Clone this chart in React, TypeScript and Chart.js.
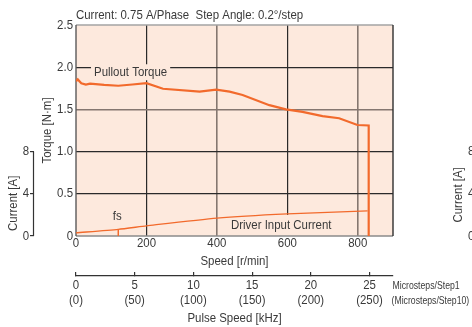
import { useEffect, useRef } from "react";
import { Chart, registerables } from "chart.js";

Chart.register(...registerables);

// ---------- data ----------
const CHART_TITLE = "Current: 0.75 A/Phase  Step Angle: 0.2°/step";
const SPEED_TICKS = [0, 200, 400, 600, 800];
const TORQUE_TICKS = [0, 0.5, 1, 1.5, 2, 2.5];
const CURRENT_TICKS = [0, 4, 8];
const PULSE_TICKS = [0, 5, 10, 15, 20, 25];
const PULSE_TICKS_MS10 = ["(0)", "(50)", "(100)", "(150)", "(200)", "(250)"];

const torqueSpeed = [0, 5, 15, 28, 40, 80, 120, 160, 200, 247, 351, 398, 436, 473, 549, 596, 643, 700, 747, 799, 831, 831];
const pulloutTorque = [1.835, 1.855, 1.81, 1.795, 1.805, 1.79, 1.78, 1.795, 1.81, 1.745, 1.71, 1.735, 1.71, 1.67, 1.55, 1.5, 1.47, 1.42, 1.395, 1.315, 1.31, 0];

const currentSpeed = [0, 120, 200, 400, 600, 828];
const inputCurrent = [0.3, 0.63, 0.96, 1.7, 2.1, 2.38];

const FS_SPEED = 120;
const FS_CURRENT = 0.63;

const SPEED_MAX = 900;
const TORQUE_MAX = 2.5;
const CURRENT_PER_TORQUE = 8; // 8 A lines up with 1.0 N·m
const KHZ_PER_RPM = 0.03; // 1800 steps/rev

const PULLOUT_LABEL = { text: "Pullout Torque", speed: 155, torque: 1.94 };
const CURRENT_LABEL = { text: "Driver Input Current", speed: 440, current: 1.05 };

// ---------- style ----------
const FONT = "'Liberation Sans', Arial, sans-serif";
const TEXT_SCALE = 0.88; // condensed look
const SMALL_TEXT_SCALE = 0.79;
const TEXT = "#3a3a3a";
const ORANGE = "#f26a2c";
const BG = "#fde9dd";
const GRID_DARK = "#2a2a2a";
const GRID_GRAY = "#857770";

const decor = {
  id: "decor",
  beforeDraw(chart: any) {
    const { ctx, chartArea: a } = chart;
    ctx.save();
    ctx.fillStyle = BG;
    ctx.fillRect(a.left, a.top, a.right - a.left, a.bottom - a.top);
    ctx.restore();
  },
  beforeDatasetsDraw(chart: any) {
    const { ctx, chartArea: a, scales } = chart;
    const x = scales.x, y = scales.y, yc = scales.yc;
    ctx.save();
    ctx.font = `13px ${FONT}`;
    ctx.fillStyle = BG;
    const pw = ctx.measureText(PULLOUT_LABEL.text).width * TEXT_SCALE;
    const pcx = x.getPixelForValue(PULLOUT_LABEL.speed);
    const pcy = y.getPixelForValue(PULLOUT_LABEL.torque);
    ctx.fillRect(pcx - pw / 2 - 3, pcy - 8, pw + 6, 16);
    const cw = ctx.measureText(CURRENT_LABEL.text).width * TEXT_SCALE;
    const clx = x.getPixelForValue(CURRENT_LABEL.speed);
    const ccy = yc.getPixelForValue(CURRENT_LABEL.current);
    ctx.fillRect(clx - 3, ccy - 10, cw + 6, a.bottom - (ccy - 10));
    // frame
    ctx.lineWidth = 1.4;
    const side = (c: string, x1: number, y1: number, x2: number, y2: number) => {
      ctx.strokeStyle = c;
      ctx.beginPath();
      ctx.moveTo(x1, y1);
      ctx.lineTo(x2, y2);
      ctx.stroke();
    };
    side("#a3a3a3", a.left, a.top, a.right, a.top);
    side("#8a8a8a", a.left, a.bottom, a.right, a.bottom);
    side("#5a5a5a", a.left, a.top, a.left, a.bottom);
    side("#2e2e2e", a.right, a.top, a.right, a.bottom);
    // current axis line (0..8 A)
    ctx.strokeStyle = "#333";
    ctx.lineWidth = 1.2;
    ctx.beginPath();
    ctx.moveTo(yc.right - 0.5, yc.getPixelForValue(0));
    ctx.lineTo(yc.right - 0.5, yc.getPixelForValue(CURRENT_TICKS[CURRENT_TICKS.length - 1]));
    ctx.stroke();
    ctx.restore();
  },
  afterDraw(chart: any) {
    const { ctx, scales } = chart;
    const x = scales.x, y = scales.y, yc = scales.yc, xk = scales.xk;
    ctx.save();
    ctx.fillStyle = TEXT;
    ctx.font = `13px ${FONT}`;
    ctx.textBaseline = "middle";
    ctx.textAlign = "center";
    ctx.fillText(PULLOUT_LABEL.text, x.getPixelForValue(PULLOUT_LABEL.speed), y.getPixelForValue(PULLOUT_LABEL.torque));
    ctx.textAlign = "left";
    ctx.fillText(CURRENT_LABEL.text, x.getPixelForValue(CURRENT_LABEL.speed), yc.getPixelForValue(CURRENT_LABEL.current));
    ctx.textAlign = "center";
    ctx.fillText("fs", x.getPixelForValue(FS_SPEED) - 1, yc.getPixelForValue(FS_CURRENT) - 13);
    // current axis title
    ctx.save();
    ctx.translate(13, yc.getPixelForValue(3.1));
    ctx.rotate(-Math.PI / 2);
    ctx.fillText("Current [A]", 0, 0);
    ctx.restore();
    // microsteps legend beside pulse axis
    ctx.__sx = SMALL_TEXT_SCALE;
    ctx.font = `11px ${FONT}`;
    ctx.textAlign = "left";
    ctx.fillText("Microsteps/Step1", xk.right - 0.5, 286);
    ctx.fillText("(Microsteps/Step10)", xk.right - 1.5, 301);
    ctx.__sx = undefined;
    // neighbouring chart (cut off at the right edge)
    ctx.font = `13px ${FONT}`;
    ctx.save();
    ctx.translate(458, yc.getPixelForValue(3.9));
    ctx.rotate(-Math.PI / 2);
    ctx.textAlign = "center";
    ctx.fillText("Current [A]", 0, 0);
    ctx.restore();
    ctx.textAlign = "left";
    CURRENT_TICKS.forEach((v) => ctx.fillText(String(v), 468, yc.getPixelForValue(v)));
    ctx.restore();
  },
};

function condenseText(ctx: any) {
  if (ctx.__condensed) return;
  const orig = ctx.fillText.bind(ctx);
  ctx.fillText = (text: string, px: number, py: number, maxWidth?: number) => {
    const sx = ctx.__sx ?? TEXT_SCALE;
    ctx.save();
    ctx.translate(px, py);
    ctx.scale(sx, 1);
    if (maxWidth !== undefined) orig(text, 0, 0, maxWidth / sx);
    else orig(text, 0, 0);
    ctx.restore();
  };
  ctx.__condensed = true;
}

export default function App() {
  const ref = useRef<HTMLCanvasElement | null>(null);
  useEffect(() => {
    if (!ref.current) return;
    const c2d = ref.current.getContext("2d");
    condenseText(c2d);
    Chart.defaults.font.family = FONT;
    Chart.defaults.color = TEXT;
    const tickFont = { size: 13, family: FONT };
    const chart = new Chart(ref.current, {
      type: "line",
      data: {
        datasets: [
          {
            label: "Pullout Torque",
            data: torqueSpeed.map((s, i) => ({ x: s, y: pulloutTorque[i] })),
            xAxisID: "x",
            yAxisID: "y",
            borderColor: ORANGE,
            borderWidth: 2.2,
            pointRadius: 0,
            tension: 0,
          },
          {
            label: "Driver Input Current",
            data: currentSpeed.map((s, i) => ({ x: s, y: inputCurrent[i] })),
            xAxisID: "x",
            yAxisID: "yc",
            borderColor: ORANGE,
            borderWidth: 1.3,
            pointRadius: 0,
            tension: 0.2,
          },
          {
            label: "fs",
            data: [
              { x: FS_SPEED, y: 0 },
              { x: FS_SPEED, y: FS_CURRENT },
            ],
            xAxisID: "x",
            yAxisID: "yc",
            borderColor: ORANGE,
            borderWidth: 1.5,
            pointRadius: 0,
          },
        ],
      },
      options: {
        animation: false,
        responsive: false,
        maintainAspectRatio: false,
        layout: { padding: { left: 0, right: 79, top: 0, bottom: 0 } },
        plugins: {
          legend: { display: false },
          tooltip: { enabled: false },
          title: {
            display: true,
            text: CHART_TITLE,
            align: "start",
            fullSize: false,
            color: TEXT,
            font: { size: 13, weight: "normal", family: FONT },
            padding: { top: 7.2, bottom: 2.2 },
          },
        },
        scales: {
          x: {
            type: "linear",
            position: "bottom",
            min: 0,
            max: SPEED_MAX,
            weight: 0,
            afterBuildTicks: (s: any) => { s.ticks = SPEED_TICKS.map((v) => ({ value: v })); },
            afterFit: (s: any) => { s.height = 40; },
            grid: {
              drawTicks: false,
              color: (c: any) => (c.tick && (c.tick.value === 400 || c.tick.value === 800) ? GRID_GRAY : c.tick && c.tick.value === 0 ? "rgba(0,0,0,0)" : GRID_DARK),
              lineWidth: (c: any) => (c.tick && (c.tick.value === 400 || c.tick.value === 800) ? 1.6 : 1.2),
            },
            border: { display: false },
            ticks: { padding: 0, color: TEXT, font: tickFont, maxRotation: 0, autoSkip: false },
            title: { display: true, text: "Speed [r/min]", color: TEXT, font: tickFont, padding: { top: 0, bottom: 6.5 } },
          },
          xk: {
            type: "linear",
            position: "bottom",
            min: 0,
            max: SPEED_MAX * KHZ_PER_RPM,
            weight: 1,
            afterBuildTicks: (s: any) => { s.ticks = PULSE_TICKS.map((v) => ({ value: v })); },
            afterFit: (s: any) => { s.height = 51; },
            grid: { drawOnChartArea: false, drawTicks: true, tickLength: -4, color: "#333", lineWidth: 1.2 },
            border: { display: true, color: "#333", width: 1.2 },
            ticks: {
              padding: 5.5,
              color: TEXT,
              font: { size: 13, family: FONT, lineHeight: "15px" },
              maxRotation: 0,
              autoSkip: false,
              callback: (v: any) => {
                const i = PULSE_TICKS.indexOf(Number(v));
                return [String(v), i >= 0 ? PULSE_TICKS_MS10[i] : ""];
              },
            },
            title: { display: true, text: "Pulse Speed [kHz]", color: TEXT, font: tickFont, padding: { top: 0, bottom: 1.2 } },
          },
          y: {
            type: "linear",
            position: "left",
            min: 0,
            max: TORQUE_MAX,
            weight: 0,
            afterBuildTicks: (s: any) => { s.ticks = TORQUE_TICKS.map((v) => ({ value: v })); },
            afterFit: (s: any) => { s.width = 42; },
            grid: {
              drawTicks: false,
              color: (c: any) => (c.tick && c.tick.value === 1.5 ? GRID_GRAY : c.tick && (c.tick.value === 0 || c.tick.value === 2.5) ? "rgba(0,0,0,0)" : GRID_DARK),
              lineWidth: (c: any) => (c.tick && c.tick.value === 1.5 ? 1.6 : 1.2),
            },
            border: { display: false },
            ticks: { padding: 3, color: TEXT, font: tickFont, autoSkip: false, callback: (v: any) => (Number(v) === 0 ? "0" : Number(v).toFixed(1)) },
            title: { display: true, text: "Torque [N·m]", color: TEXT, font: tickFont, padding: { top: 5.5, bottom: 0 } },
          },
          yc: {
            type: "linear",
            position: "left",
            min: 0,
            max: TORQUE_MAX * CURRENT_PER_TORQUE,
            weight: 1,
            afterBuildTicks: (s: any) => { s.ticks = CURRENT_TICKS.map((v) => ({ value: v })); },
            afterFit: (s: any) => { s.width = 34; },
            grid: { drawOnChartArea: false, drawTicks: true, tickLength: 4, color: "#333", lineWidth: 1.2 },
            border: { display: false },
            ticks: { padding: 1, color: TEXT, font: tickFont, autoSkip: false },
          },
        },
      },
      plugins: [decor],
    } as any);
    return () => chart.destroy();
  }, []);
  return (
    <div style={{ position: "absolute", left: 0, top: 0, width: 472, height: 327, background: "#fff" }}>
      <canvas ref={ref} width={472} height={327} style={{ width: 472, height: 327, display: "block" }} />
    </div>
  );
}
